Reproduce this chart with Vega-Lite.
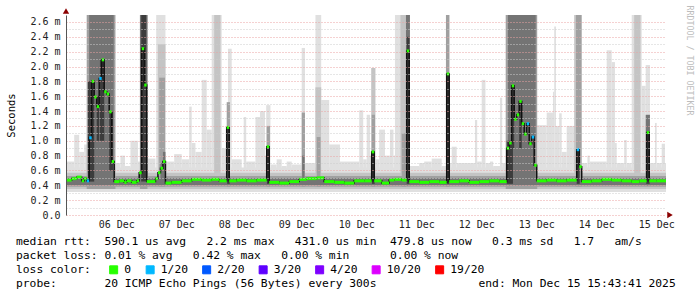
{
"$schema": "https://vega.github.io/schema/vega-lite/v6.json",
"width": 600, "height": 200,
"autosize": {"type": "none"},
"padding": {"left": 66, "top": 15, "right": 31, "bottom": 82},
"background": "white",
"config": {"view": {"stroke": null}, "font": "DejaVu Sans Mono"},
"title": {
 "text": [
  "median\u00a0rtt:\u00a0\u00a0590.1\u00a0us\u00a0avg\u00a0\u00a0\u00a02.2\u00a0ms\u00a0max\u00a0\u00a0\u00a0431.0\u00a0us\u00a0min\u00a0\u00a0479.8\u00a0us\u00a0now\u00a0\u00a0\u00a00.3\u00a0ms\u00a0sd\u00a0\u00a0\u00a01.7\u00a0\u00a0\u00a0am/s",
  "packet\u00a0loss:\u00a00.01\u00a0%\u00a0avg\u00a0\u00a0\u00a00.42\u00a0%\u00a0max\u00a0\u00a0\u00a00.00\u00a0%\u00a0min\u00a0\u00a0\u00a0\u00a0\u00a0\u00a00.00\u00a0%\u00a0now",
  "loss\u00a0color:",
  "probe:\u00a0\u00a0\u00a0\u00a0\u00a0\u00a0\u00a020\u00a0ICMP\u00a0Echo\u00a0Pings\u00a0(56\u00a0Bytes)\u00a0every\u00a0300s\u00a0\u00a0\u00a0\u00a0\u00a0\u00a0\u00a0\u00a0\u00a0\u00a0\u00a0\u00a0\u00a0\u00a0\u00a0end:\u00a0Mon\u00a0Dec\u00a015\u00a015:43:41\u00a02025"
 ],
 "orient": "top", "anchor": "start", "frame": "group",
 "font": "DejaVu Sans Mono", "fontSize": 11.3, "fontWeight": "normal", "color": "#000",
 "lineHeight": 14, "offset": 0, "dx": -50, "dy": 284, "baseline": "top", "limit": 2000
},
"datasets": {
 "days": [
  {"h":36,"label":"06 Dec"},{"h":60,"label":"07 Dec"},{"h":84,"label":"08 Dec"},{"h":108,"label":"09 Dec"},{"h":132,"label":"10 Dec"},
  {"h":156,"label":"11 Dec"},{"h":180,"label":"12 Dec"},{"h":204,"label":"13 Dec"},{"h":228,"label":"14 Dec"},{"h":252,"label":"15 Dec"}
 ],
 "smoke": [
  {"a":15.72,"b":255.72,"lo":0.31,"hi":0.64,"g":1},
  {"a":15.72,"b":19,"lo":0.31,"hi":0.72,"g":1},
  {"a":19,"b":21,"lo":0.31,"hi":1.08,"g":1},
  {"a":21,"b":23,"lo":0.31,"hi":0.85,"g":1},
  {"a":23,"b":24.2,"lo":0.31,"hi":0.95,"g":1},
  {"a":35.5,"b":37.5,"lo":0.31,"hi":0.7,"g":1},
  {"a":37.5,"b":39.3,"lo":0.31,"hi":0.8,"g":1},
  {"a":39.3,"b":41.5,"lo":0.31,"hi":0.66,"g":1},
  {"a":41.5,"b":44.5,"lo":0.31,"hi":1.0,"g":1},
  {"a":44.5,"b":45.3,"lo":0.31,"hi":0.72,"g":1},
  {"a":48.2,"b":51.5,"lo":0.31,"hi":0.76,"g":1},
  {"a":51.8,"b":55.5,"lo":0.31,"hi":2.8,"g":1},
  {"a":55.5,"b":59,"lo":0.31,"hi":0.72,"g":1},
  {"a":59,"b":62,"lo":0.31,"hi":0.82,"g":1},
  {"a":62,"b":65,"lo":0.31,"hi":0.75,"g":1},
  {"a":65,"b":66,"lo":0.31,"hi":1.46,"g":1},
  {"a":66,"b":67.5,"lo":0.31,"hi":0.97,"g":1},
  {"a":67.5,"b":70,"lo":0.31,"hi":0.85,"g":1},
  {"a":70,"b":72,"lo":0.31,"hi":1.82,"g":1},
  {"a":72,"b":74,"lo":0.31,"hi":1.15,"g":1},
  {"a":74,"b":78,"lo":0.31,"hi":2.8,"g":1},
  {"a":78,"b":80,"lo":0.31,"hi":0.9,"g":1},
  {"a":80.5,"b":82,"lo":0.31,"hi":2.24,"g":1},
  {"a":82,"b":86,"lo":0.31,"hi":0.75,"g":1},
  {"a":86.8,"b":87.8,"lo":0.31,"hi":1.32,"g":1},
  {"a":87.8,"b":91.5,"lo":0.31,"hi":0.72,"g":1},
  {"a":91.5,"b":93.3,"lo":0.31,"hi":1.32,"g":1},
  {"a":93.3,"b":95.3,"lo":0.31,"hi":1.4,"g":1},
  {"a":95.3,"b":95.8,"lo":0.31,"hi":0.8,"g":1},
  {"a":95.8,"b":97.5,"lo":0.31,"hi":1.48,"g":1},
  {"a":97.5,"b":100,"lo":0.31,"hi":0.68,"g":1},
  {"a":100,"b":102,"lo":0.31,"hi":0.75,"g":1},
  {"a":102,"b":104,"lo":0.31,"hi":0.66,"g":1},
  {"a":104,"b":106,"lo":0.31,"hi":0.72,"g":1},
  {"a":106,"b":110,"lo":0.31,"hi":0.68,"g":1},
  {"a":110,"b":111.3,"lo":0.31,"hi":2.25,"g":1},
  {"a":111.3,"b":115.5,"lo":0.31,"hi":0.7,"g":1},
  {"a":115.5,"b":117.8,"lo":0.31,"hi":2.8,"g":1},
  {"a":117.8,"b":121,"lo":0.31,"hi":1.55,"g":1},
  {"a":121,"b":125.3,"lo":0.31,"hi":0.95,"g":1},
  {"a":125.3,"b":133,"lo":0.31,"hi":0.72,"g":1},
  {"a":133,"b":134.6,"lo":0.31,"hi":1.41,"g":1},
  {"a":134.6,"b":136,"lo":0.31,"hi":0.75,"g":1},
  {"a":136,"b":137.3,"lo":0.31,"hi":1.35,"g":1},
  {"a":137.3,"b":137.8,"lo":0.31,"hi":0.8,"g":1},
  {"a":139.5,"b":141,"lo":0.31,"hi":0.75,"g":1},
  {"a":141,"b":143.3,"lo":0.31,"hi":1.15,"g":1},
  {"a":143.3,"b":145.3,"lo":0.31,"hi":0.8,"g":1},
  {"a":145.3,"b":146.7,"lo":0.31,"hi":1.15,"g":1},
  {"a":146.7,"b":147.3,"lo":0.31,"hi":0.8,"g":1},
  {"a":147.3,"b":151.7,"lo":0.31,"hi":2.8,"g":1},
  {"a":153.3,"b":157,"lo":0.31,"hi":0.66,"g":1},
  {"a":157,"b":159,"lo":0.31,"hi":0.7,"g":1},
  {"a":159,"b":162,"lo":0.31,"hi":0.72,"g":1},
  {"a":162,"b":166,"lo":0.31,"hi":0.76,"g":1},
  {"a":166,"b":167.7,"lo":0.31,"hi":0.66,"g":1},
  {"a":169.1,"b":170,"lo":0.31,"hi":0.7,"g":1},
  {"a":170,"b":172,"lo":0.31,"hi":0.92,"g":1},
  {"a":172,"b":179.3,"lo":0.31,"hi":0.7,"g":1},
  {"a":179.3,"b":180.2,"lo":0.31,"hi":1.28,"g":1},
  {"a":180.2,"b":182,"lo":0.31,"hi":0.72,"g":1},
  {"a":182,"b":183.5,"lo":0.31,"hi":1.82,"g":1},
  {"a":183.5,"b":185.3,"lo":0.31,"hi":0.7,"g":1},
  {"a":185.3,"b":186.6,"lo":0.31,"hi":0.72,"g":1},
  {"a":186.6,"b":189.3,"lo":0.31,"hi":0.66,"g":1},
  {"a":189.3,"b":190.2,"lo":0.31,"hi":1.58,"g":1},
  {"a":190.2,"b":191.6,"lo":0.31,"hi":0.7,"g":1},
  {"a":204.2,"b":208,"lo":0.31,"hi":1.21,"g":1},
  {"a":208,"b":210.5,"lo":0.31,"hi":1.38,"g":1},
  {"a":210.5,"b":211,"lo":0.31,"hi":1.66,"g":1},
  {"a":211,"b":211.7,"lo":0.31,"hi":2.54,"g":1},
  {"a":211.7,"b":213,"lo":0.31,"hi":1.2,"g":1},
  {"a":213,"b":214,"lo":0.31,"hi":1.37,"g":1},
  {"a":214,"b":216,"lo":0.31,"hi":0.85,"g":1},
  {"a":216,"b":219.3,"lo":0.31,"hi":1.2,"g":1},
  {"a":222,"b":224.3,"lo":0.31,"hi":0.7,"g":1},
  {"a":224.3,"b":225.2,"lo":0.31,"hi":0.8,"g":1},
  {"a":225.2,"b":232,"lo":0.31,"hi":0.72,"g":1},
  {"a":232,"b":234,"lo":0.31,"hi":2.22,"g":1},
  {"a":234,"b":235.3,"lo":0.31,"hi":2.06,"g":1},
  {"a":235.3,"b":236,"lo":0.31,"hi":0.97,"g":1},
  {"a":236,"b":239,"lo":0.31,"hi":0.7,"g":1},
  {"a":239,"b":240,"lo":0.31,"hi":1.01,"g":1},
  {"a":240,"b":242,"lo":0.31,"hi":0.7,"g":1},
  {"a":242,"b":246,"lo":0.31,"hi":2.8,"g":1},
  {"a":246,"b":247.6,"lo":0.31,"hi":1.74,"g":1},
  {"a":247.6,"b":249.3,"lo":0.31,"hi":2.02,"g":1},
  {"a":249.3,"b":251.3,"lo":0.31,"hi":0.7,"g":1},
  {"a":251.3,"b":252,"lo":0.31,"hi":1.24,"g":1},
  {"a":252,"b":254,"lo":0.31,"hi":0.7,"g":1},
  {"a":254,"b":255.3,"lo":0.31,"hi":0.96,"g":1},
  {"a":255.3,"b":255.72,"lo":0.31,"hi":0.7,"g":1},
  {"a":15.72,"b":255.72,"lo":0.35,"hi":0.57,"g":2},
  {"a":52.5,"b":55.5,"lo":0.36,"hi":2.3,"g":2},
  {"a":75,"b":77.5,"lo":0.36,"hi":2.8,"g":2},
  {"a":115.5,"b":117.8,"lo":0.36,"hi":1.72,"g":2},
  {"a":137.8,"b":139.5,"lo":0.36,"hi":1.98,"g":2},
  {"a":149.5,"b":151.7,"lo":0.36,"hi":2.8,"g":2},
  {"a":219,"b":219.7,"lo":0.36,"hi":2.8,"g":2},
  {"a":243,"b":245.5,"lo":0.36,"hi":2.8,"g":2},
  {"a":15.72,"b":255.72,"lo":0.38,"hi":0.525,"g":3},
  {"a":24,"b":35.5,"lo":0.35,"hi":2.8,"g":3},
  {"a":45.3,"b":48.3,"lo":0.35,"hi":2.8,"g":3},
  {"a":53,"b":55.3,"lo":0.38,"hi":1.85,"g":3},
  {"a":80,"b":81.3,"lo":0.38,"hi":1.52,"g":3},
  {"a":96,"b":97.3,"lo":0.38,"hi":1.2,"g":3},
  {"a":110,"b":111.3,"lo":0.38,"hi":1.38,"g":3},
  {"a":116,"b":117.5,"lo":0.38,"hi":1.05,"g":3},
  {"a":138,"b":139.3,"lo":0.38,"hi":1.35,"g":3},
  {"a":150,"b":151.7,"lo":0.38,"hi":1.1,"g":3},
  {"a":167.7,"b":169.1,"lo":0.38,"hi":2.8,"g":3},
  {"a":191.6,"b":204.2,"lo":0.35,"hi":2.8,"g":3},
  {"a":219.7,"b":222,"lo":0.38,"hi":2.8,"g":3},
  {"a":15.72,"b":255.72,"lo":0.405,"hi":0.495,"g":4},
  {"a":25,"b":34.8,"lo":0.4,"hi":2.8,"g":4},
  {"a":45.3,"b":48.3,"lo":0.4,"hi":2.8,"g":4},
  {"a":53.5,"b":54.5,"lo":0.42,"hi":0.7,"g":4},
  {"a":54.5,"b":55.5,"lo":0.42,"hi":0.85,"g":4},
  {"a":110.2,"b":111.1,"lo":0.42,"hi":0.8,"g":4},
  {"a":151.7,"b":153.3,"lo":0.4,"hi":2.8,"g":4},
  {"a":192.5,"b":203.6,"lo":0.4,"hi":2.8,"g":4},
  {"a":247.6,"b":249.3,"lo":0.4,"hi":1.35,"g":4},
  {"a":24.5,"b":27,"lo":0.45,"hi":1.8,"g":5},
  {"a":28,"b":29,"lo":1.0,"hi":1.6,"g":5},
  {"a":29.3,"b":31,"lo":1.0,"hi":2.1,"g":5},
  {"a":33,"b":34.5,"lo":0.6,"hi":1.4,"g":5},
  {"a":45.8,"b":47.8,"lo":0.45,"hi":2.8,"g":5},
  {"a":80.2,"b":81.2,"lo":0.42,"hi":1.19,"g":5},
  {"a":96.1,"b":97.1,"lo":0.42,"hi":0.92,"g":5},
  {"a":138.1,"b":139.2,"lo":0.42,"hi":0.85,"g":5},
  {"a":152,"b":153.1,"lo":0.42,"hi":2.4,"g":5},
  {"a":167.9,"b":169,"lo":0.42,"hi":1.9,"g":5},
  {"a":192,"b":194.5,"lo":0.42,"hi":1.0,"g":5},
  {"a":194,"b":195,"lo":0.9,"hi":1.74,"g":5},
  {"a":197,"b":198,"lo":0.9,"hi":1.53,"g":5},
  {"a":220,"b":221.2,"lo":0.42,"hi":0.88,"g":5},
  {"a":247.8,"b":249.2,"lo":0.42,"hi":1.1,"g":5}
 ],
 "median": [
  {"a":15.72,"b":18,"med":0.47,"loss":"0"},
  {"a":18,"b":20,"med":0.49,"loss":"0"},
  {"a":20,"b":22,"med":0.51,"loss":"0"},
  {"a":22,"b":23,"med":0.46,"loss":"0"},
  {"a":23,"b":24,"med":0.49,"loss":"0"},
  {"a":24,"b":25,"med":0.46,"loss":"1/20"},
  {"a":25,"b":26,"med":1.04,"loss":"1/20"},
  {"a":26,"b":27,"med":1.8,"loss":"0"},
  {"a":27,"b":28,"med":1.59,"loss":"0"},
  {"a":28,"b":29,"med":1.46,"loss":"0"},
  {"a":29,"b":30,"med":1.84,"loss":"1/20"},
  {"a":30,"b":31,"med":2.09,"loss":"0"},
  {"a":31,"b":32,"med":1.66,"loss":"0"},
  {"a":32,"b":33,"med":1.63,"loss":"0"},
  {"a":33,"b":34,"med":1.39,"loss":"0"},
  {"a":34,"b":35,"med":0.72,"loss":"0"},
  {"a":35,"b":37,"med":0.45,"loss":"0"},
  {"a":37,"b":39,"med":0.46,"loss":"0"},
  {"a":39,"b":40,"med":0.44,"loss":"0"},
  {"a":40,"b":42,"med":0.46,"loss":"0"},
  {"a":42,"b":44,"med":0.44,"loss":"0"},
  {"a":44,"b":45,"med":0.46,"loss":"0"},
  {"a":45,"b":46,"med":0.57,"loss":"0"},
  {"a":46,"b":47,"med":2.24,"loss":"0"},
  {"a":47,"b":48,"med":1.75,"loss":"0"},
  {"a":48,"b":51.5,"med":0.45,"loss":"0"},
  {"a":51.5,"b":52.5,"med":0.49,"loss":"0"},
  {"a":52.5,"b":53.5,"med":0.57,"loss":"0"},
  {"a":53.5,"b":54.5,"med":0.63,"loss":"0"},
  {"a":54.5,"b":55.5,"med":0.72,"loss":"0"},
  {"a":55.5,"b":58,"med":0.43,"loss":"0"},
  {"a":58,"b":62,"med":0.44,"loss":"0"},
  {"a":62,"b":66,"med":0.46,"loss":"0"},
  {"a":66,"b":70,"med":0.48,"loss":"0"},
  {"a":70,"b":74,"med":0.47,"loss":"0"},
  {"a":74,"b":77,"med":0.48,"loss":"0"},
  {"a":77,"b":80,"med":0.46,"loss":"0"},
  {"a":80,"b":81,"med":1.18,"loss":"0"},
  {"a":81,"b":84,"med":0.46,"loss":"0"},
  {"a":84,"b":88,"med":0.47,"loss":"0"},
  {"a":88,"b":92,"med":0.46,"loss":"0"},
  {"a":92,"b":96,"med":0.47,"loss":"0"},
  {"a":96,"b":97,"med":0.92,"loss":"0"},
  {"a":97,"b":101,"med":0.44,"loss":"0"},
  {"a":101,"b":105,"med":0.43,"loss":"0"},
  {"a":105,"b":109,"med":0.45,"loss":"0"},
  {"a":109,"b":112,"med":0.48,"loss":"0"},
  {"a":112,"b":116,"med":0.49,"loss":"0"},
  {"a":116,"b":119,"med":0.5,"loss":"0"},
  {"a":119,"b":123,"med":0.45,"loss":"0"},
  {"a":123,"b":127,"med":0.44,"loss":"0"},
  {"a":127,"b":131,"med":0.43,"loss":"0"},
  {"a":131,"b":135,"med":0.46,"loss":"0"},
  {"a":135,"b":138,"med":0.46,"loss":"0"},
  {"a":138,"b":139,"med":0.85,"loss":"0"},
  {"a":139,"b":142,"med":0.46,"loss":"0"},
  {"a":142,"b":145,"med":0.43,"loss":"0"},
  {"a":145,"b":147,"med":0.47,"loss":"0"},
  {"a":147,"b":150,"med":0.48,"loss":"0"},
  {"a":150,"b":152,"med":0.47,"loss":"0"},
  {"a":152,"b":153,"med":2.21,"loss":"0"},
  {"a":153,"b":157,"med":0.45,"loss":"0"},
  {"a":157,"b":161,"med":0.44,"loss":"0"},
  {"a":161,"b":165,"med":0.45,"loss":"0"},
  {"a":165,"b":168,"med":0.44,"loss":"0"},
  {"a":168,"b":169,"med":1.9,"loss":"0"},
  {"a":169,"b":173,"med":0.45,"loss":"0"},
  {"a":173,"b":177,"med":0.46,"loss":"0"},
  {"a":177,"b":181,"med":0.44,"loss":"0"},
  {"a":181,"b":185,"med":0.45,"loss":"0"},
  {"a":185,"b":189,"med":0.46,"loss":"0"},
  {"a":189,"b":192,"med":0.45,"loss":"0"},
  {"a":192,"b":193,"med":0.9,"loss":"0"},
  {"a":193,"b":194,"med":0.97,"loss":"0"},
  {"a":194,"b":195,"med":1.74,"loss":"0"},
  {"a":195,"b":196,"med":1.29,"loss":"0"},
  {"a":196,"b":197,"med":1.35,"loss":"0"},
  {"a":197,"b":198,"med":1.53,"loss":"0"},
  {"a":198,"b":199,"med":1.23,"loss":"0"},
  {"a":199,"b":200,"med":1.09,"loss":"0"},
  {"a":200,"b":201,"med":1.23,"loss":"1/20"},
  {"a":201,"b":202,"med":0.96,"loss":"0"},
  {"a":202,"b":203,"med":1.05,"loss":"1/20"},
  {"a":203,"b":204,"med":0.67,"loss":"0"},
  {"a":204,"b":208,"med":0.46,"loss":"0"},
  {"a":208,"b":212,"med":0.47,"loss":"0"},
  {"a":212,"b":216,"med":0.46,"loss":"0"},
  {"a":216,"b":220,"med":0.47,"loss":"0"},
  {"a":220,"b":221,"med":0.88,"loss":"1/20"},
  {"a":221,"b":222,"med":0.65,"loss":"0"},
  {"a":222,"b":226,"med":0.45,"loss":"0"},
  {"a":226,"b":230,"med":0.46,"loss":"0"},
  {"a":230,"b":234,"med":0.48,"loss":"0"},
  {"a":234,"b":238,"med":0.47,"loss":"0"},
  {"a":238,"b":242,"med":0.46,"loss":"0"},
  {"a":242,"b":245,"med":0.45,"loss":"0"},
  {"a":245,"b":248,"med":0.46,"loss":"0"},
  {"a":248,"b":249,"med":1.11,"loss":"0"},
  {"a":249,"b":252,"med":0.46,"loss":"0"},
  {"a":252,"b":255.72,"med":0.46,"loss":"0"}
 ]
},
"resolve": {"axis": {"y": "independent"}},
"layer": [
 {
  "data": {"name": "smoke"},
  "mark": {"type": "rect", "clip": true},
  "encoding": {
   "x": {"field": "a", "type": "quantitative",
    "scale": {"domain": [15.72, 255.72], "nice": false, "zero": false},
    "axis": {
     "values": [18,24,30,36,42,48,54,60,66,72,78,84,90,96,102,108,114,120,126,132,138,144,150,156,162,168,174,180,186,192,198,204,210,216,222,228,234,240,246,252],
     "grid": true,
     "gridColor": {"condition": {"test": "datum.value % 24 === 0", "value": "#eba3a3"}, "value": "#cdcdcd"},
     "gridDash": [1, 2], "gridWidth": 1,
     "ticks": false, "labels": false, "domainColor": "#000", "domainWidth": 1,
     "title": null, "zindex": 1
    }},
   "x2": {"field": "b"},
   "y": {"field": "lo", "type": "quantitative",
    "scale": {"domain": [0, 2.694], "nice": false, "zero": false},
    "axis": {
     "values": [0,0.1,0.2,0.3,0.4,0.5,0.6,0.7,0.8,0.9,1.0,1.1,1.2,1.3,1.4,1.5,1.6,1.7,1.8,1.9,2.0,2.1,2.2,2.3,2.4,2.5,2.6],
     "grid": true,
     "gridColor": {"condition": {"test": "round(datum.value*10) % 2 === 0", "value": "#eba3a3"}, "value": "#cdcdcd"},
     "gridDash": [1, 2], "gridWidth": 1,
     "ticks": false, "domainColor": "#555", "domainWidth": 1,
     "labelExpr": "round(datum.value*10) % 2 === 0 ? (datum.value === 0 ? '0.0' : format(datum.value, '.1f') + ' m') : ''",
     "labelFont": "DejaVu Sans Mono", "labelFontSize": 10, "labelColor": "#222",
     "labelPadding": 6, "labelOverlap": false, "labelFlush": false, "labelBound": false,
     "title": "Seconds", "titleFont": "DejaVu Sans Mono", "titleFontSize": 10.5, "titleFontWeight": "normal",
     "titleColor": "#000", "titleX": -55, "titleY": 100, "titleAngle": -90, "titleAlign": "center", "titleBaseline": "middle",
     "zindex": 1
    }},
   "y2": {"field": "hi"},
   "fill": {"field": "g", "type": "ordinal",
    "scale": {"domain": [1, 2, 3, 4, 5], "range": ["#e0e0e0", "#c4c4c4", "#a0a0a0", "#747474", "#3c3c3c"]},
    "legend": null}
  }
 },
 {
  "data": {"name": "median"},
  "mark": {"type": "line", "interpolate": "step-after", "color": "#111", "strokeWidth": 1.5},
  "encoding": {
   "x": {"field": "a", "type": "quantitative", "axis": null},
   "y": {"field": "med", "type": "quantitative", "axis": null}
  }
 },
 {
  "data": {"name": "median"},
  "mark": {"type": "rule", "strokeWidth": 3, "strokeCap": "butt"},
  "encoding": {
   "x": {"field": "a", "type": "quantitative", "axis": null},
   "x2": {"field": "b"},
   "y": {"field": "med", "type": "quantitative", "axis": null},
   "color": {"field": "loss", "type": "nominal",
    "scale": {"domain": ["0", "1/20", "2/20", "3/20", "4/20", "10/20", "19/20"],
              "range": ["#26ff00", "#00b8ff", "#0059ff", "#5e00ff", "#7e00ff", "#dd00ff", "#ff0000"]},
    "legend": {
     "orient": "none", "legendX": 42, "legendY": 249, "direction": "horizontal", "title": null,
     "symbolType": "square", "symbolSize": 64, "symbolStrokeColor": "#000", "symbolStrokeWidth": 1,
     "labelFont": "DejaVu Sans Mono", "labelFontSize": 11.3, "labelColor": "#000",
     "labelOffset": 5, "columnPadding": 11.5,
     "encode": {"symbols": {"update": {"fill": {"scale": "color", "field": "value"}, "stroke": {"value": "#000"}, "strokeWidth": {"value": 1}, "opacity": {"value": 1}}}}
    }}
  }
 },
 {
  "data": {"name": "days"},
  "mark": {"type": "text", "font": "DejaVu Sans Mono", "fontSize": 10, "color": "#222", "baseline": "middle", "align": "center", "dy": 10},
  "encoding": {
   "x": {"field": "h", "type": "quantitative", "axis": null},
   "y": {"datum": 0, "type": "quantitative", "axis": null},
   "text": {"field": "label", "type": "nominal"}
  }
 },
 {
  "data": {"values": [{}]},
  "mark": {"type": "point", "shape": "triangle-right", "filled": true, "color": "#8b0000", "size": 40, "xOffset": 4, "opacity": 1},
  "encoding": {
   "x": {"datum": 255.72, "type": "quantitative", "axis": null},
   "y": {"datum": 0, "type": "quantitative", "axis": null}
  }
 },
 {
  "data": {"values": [{}]},
  "mark": {"type": "point", "shape": "triangle-up", "filled": true, "color": "#8b0000", "size": 40, "yOffset": -4, "opacity": 1},
  "encoding": {
   "x": {"datum": 15.72, "type": "quantitative", "axis": null},
   "y": {"datum": 2.694, "type": "quantitative",
    "axis": {"orient": "right", "title": "RRDTOOL / TOBI OETIKER", "labels": false, "ticks": false, "domain": false, "grid": false,
     "titleFont": "DejaVu Sans Mono", "titleFontSize": 8.3, "titleFontWeight": "normal", "titleColor": "#bdbdbd",
     "titleAngle": 90, "titleX": 22, "titleY": -10, "titleAlign": "left", "titleBaseline": "middle"}}
  }
 }
]
}
